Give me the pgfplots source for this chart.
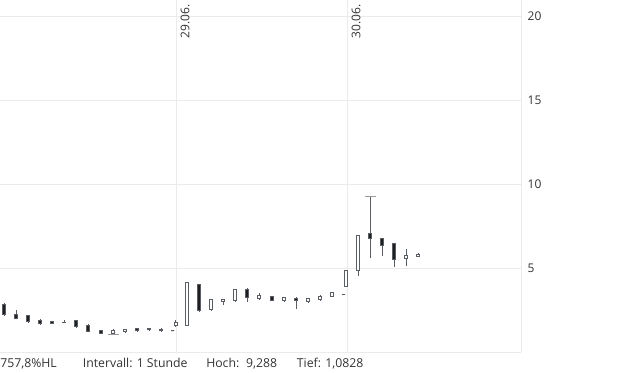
\documentclass[border=0pt]{standalone}
\usepackage{fontspec}
\setmainfont{Open Sans}
\usepackage{pgfplots}
\pgfplotsset{compat=1.18}
\usepgfplotslibrary{statistics}
\definecolor{gridc}{HTML}{EBEBEB}
\definecolor{labc}{HTML}{333333}
\definecolor{cdl}{HTML}{585E64}
\definecolor{bearc}{HTML}{1E1E1E}
\definecolor{markc}{HTML}{9A9A9A}
% #1 x, #2 low, #3 body bottom, #4 body top, #5 high
\newcommand\bull[5]{\addplot[draw=cdl, fill=white, line width=0.75pt, boxplot prepared={draw position=#1, lower whisker=#2, lower quartile=#3, median=#3, upper quartile=#4, upper whisker=#5}] coordinates {};}
\newcommand\bear[5]{\addplot[draw=cdl, fill=bearc, line width=0.75pt, boxplot prepared={draw position=#1, lower whisker=#2, lower quartile=#3, median=#3, upper quartile=#4, upper whisker=#5}] coordinates {};}
\begin{document}
\begin{tikzpicture}
\begin{axis}[
  at={(0pt,15pt)}, anchor=south west,
  scale only axis, width=390.75pt, height=264pt,
  xmin=0, xmax=521, ymin=0.06, ymax=20.95,
  clip=false,
  axis line style={draw=none},
  xtick={176,347}, xticklabels={29.06.,30.06.},
  xticklabel pos=upper,
  xticklabel style={rotate=90, anchor=north east},
  ytick={5,10,15,20},
  yticklabel pos=right,
  yticklabel style={anchor=west, xshift=1.5pt},
  major tick length=0pt,
  grid=major,
  major grid style={draw=gridc, line width=0.75pt},
  tick label style={font=\fontsize{9}{10}\selectfont, text=labc},
  /pgf/number format/assume math mode=true,
  extra x ticks={521}, extra x tick labels={},
  extra x tick style={grid=major},
  extra y ticks={0.06}, extra y tick labels={},
  extra y tick style={grid=major},
  boxplot/draw direction=y,
  boxplot/box extend=3,
  boxplot/whisker extend=0,
]
\bear{4}{2.20}{2.28}{2.89}{2.97}
\bear{16}{2.00}{2.06}{2.26}{2.55}
\bear{28}{1.80}{1.86}{2.21}{2.26}
\bear{40}{1.68}{1.78}{1.92}{2.00}
\bear{52}{1.75}{1.76}{1.88}{1.92}
\bear{64}{1.81}{1.82}{1.84}{1.94}
\bear{76}{1.54}{1.56}{1.90}{1.93}
\bear{88}{1.23}{1.29}{1.63}{1.74}
\bear{101}{1.10}{1.16}{1.35}{1.38}
\bull{113}{1.0828}{1.13}{1.34}{1.42}
\bull{125}{1.25}{1.26}{1.39}{1.40}
\bear{137}{1.27}{1.33}{1.45}{1.51}
\bear{149}{1.30}{1.40}{1.45}{1.51}
\bear{161}{1.27}{1.33}{1.42}{1.46}
\bear{172.5}{1.31}{1.31}{1.31}{1.31}
\bull{175.5}{1.53}{1.65}{1.80}{1.94}
\bull{187}{1.60}{1.64}{4.18}{4.20}
\bear{199}{2.46}{2.55}{4.06}{4.12}
\bull{211}{2.52}{2.57}{3.17}{3.23}
\bull{223}{2.87}{3.08}{3.15}{3.23}
\bull{235}{3.08}{3.11}{3.79}{3.82}
\bear{247}{3.05}{3.29}{3.79}{3.88}
\bull{259}{3.15}{3.26}{3.44}{3.54}
\bear{272}{3.09}{3.13}{3.34}{3.40}
\bull{284}{3.07}{3.10}{3.31}{3.35}
\bear{296}{2.63}{3.10}{3.25}{3.31}
\bull{308}{3.00}{3.03}{3.25}{3.28}
\bull{320}{3.11}{3.20}{3.38}{3.47}
\bull{332}{3.33}{3.36}{3.58}{3.64}
\bear{343.5}{3.48}{3.48}{3.48}{3.48}
\bull{346}{3.93}{3.96}{4.88}{4.90}
\bull{358}{4.59}{4.88}{7.00}{7.02}
\bear{370}{5.61}{6.78}{7.12}{9.288}
\bear{382}{5.77}{6.37}{6.81}{6.84}
\bear{394}{5.12}{5.54}{6.47}{6.51}
\bull{406}{5.18}{5.60}{5.76}{6.17}
\bull{418}{5.68}{5.74}{5.86}{5.92}
% high / low markers
\addplot[draw=markc, line width=0.75pt] coordinates {(365,9.288) (376,9.288)};
\addplot[draw=markc, line width=0.75pt] coordinates {(108,1.0828) (119,1.0828)};
\end{axis}
\begin{scope}[every node/.style={anchor=base west, inner sep=0pt, font=\fontsize{9.2}{10}\selectfont, text=labc}]
\node at (0pt,3.75pt) {757,8\%HL};
\node at (62pt,3.75pt) {Intervall: 1 Stunde};
\node at (154.5pt,3.75pt) {Hoch:\hspace{5pt}9,288};
\node at (222.5pt,3.75pt) {Tief: 1,0828};
\end{scope}
\pgfresetboundingbox
\useasboundingbox (0,0) rectangle (465pt,279pt);
\end{tikzpicture}
\end{document}
